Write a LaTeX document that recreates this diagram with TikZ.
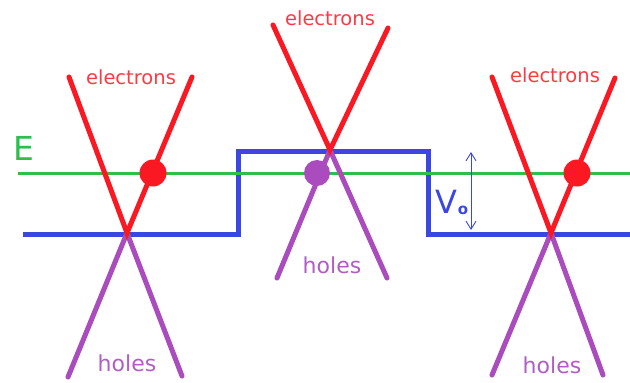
\documentclass[tikz,border=0pt]{standalone}
\usepackage{fontspec}
\setmainfont{DejaVu Sans}
\usetikzlibrary{arrows.meta}
\definecolor{bandred}{RGB}{250,25,35}
\definecolor{bandpurple}{RGB}{170,75,190}
\definecolor{wellblue}{RGB}{60,70,225}
\definecolor{levelgreen}{RGB}{45,190,75}
\tikzset{
  elec/.style={bandred, line width=5pt, line cap=round},
  hole/.style={bandpurple, line width=5pt, line cap=round},
  dot/.style={circle, fill=#1, inner sep=0pt, minimum size=27pt},
  elab/.style={text=bandred!85!white, font=\fontsize{19.5}{22}\selectfont, inner sep=0pt},
  hlab/.style={text=bandpurple!90!white, font=\fontsize{22}{26}\selectfont, inner sep=0pt},
}
\begin{document}
\begin{tikzpicture}[x=1pt, y=-1pt]
\useasboundingbox (0,0) rectangle (630,383);
% potential step
\draw[wellblue, line width=5pt] (23,234) -- (238,234) -- (238,151) -- (428,151) -- (428,234) -- (630,234);
% energy level
\draw[levelgreen, line width=3pt] (18,173) -- (630,173);
\node[text=levelgreen, font=\fontsize{33}{36}\selectfont, inner sep=0pt] (E) at (24,148) {E};
% cone tips and ends
\coordinate (vL) at (127,233);
\coordinate (vM) at (330,150);
\coordinate (vR) at (551,233);
\coordinate (eL1) at (69,77);   \coordinate (eL2) at (192,77);
\coordinate (hL1) at (68,377);  \coordinate (hL2) at (182,376);
\coordinate (eM1) at (273,25);  \coordinate (eM2) at (388,28);
\coordinate (hM1) at (277,278); \coordinate (hM2) at (387,278);
\coordinate (eR1) at (492,77);  \coordinate (eR2) at (615,78);
\coordinate (hR1) at (492,375); \coordinate (hR2) at (603,375);
% holes bands
\foreach \v/\a/\b in {vL/hL1/hL2, vM/hM1/hM2, vR/hR1/hR2} {
  \draw[hole] (\a) -- (\v) -- (\b);
}
% electron bands
\foreach \v/\a/\b in {vL/eL1/eL2, vM/eM1/eM2, vR/eR1/eR2} {
  \draw[elec] (\a) -- (\v) -- (\b);
}
% carriers
\node[dot=bandred] (dotL) at (153,173) {};
\node[dot=bandpurple, minimum size=26pt] (dotM) at (317,173) {};
\node[dot=bandred] (dotR) at (577,173) {};
% labels
\node[elab] (elecL) at (131,77) {electrons};
\node[elab] (elecM) at (330,18) {electrons};
\node[elab] (elecR) at (555,75) {electrons};
\node[hlab] (holeL) at (127,363) {holes};
\node[hlab] (holeM) at (332,265) {holes};
\node[hlab] (holeR) at (552,365) {holes};
% step height
\coordinate (vtop) at (471,152);
\coordinate (vbot) at (471,230);
\draw[wellblue, line width=0.9pt, {Straight Barb[length=8pt,width=10pt]}-{Straight Barb[length=8pt,width=10pt]}] (vtop) -- (vbot);
\node[text=wellblue, font=\fontsize{32}{36}\selectfont, inner sep=0pt] (Vlab) at (452,202) {V\raisebox{-1pt}{\fontsize{15}{18}\selectfont\bfseries o}};
\end{tikzpicture}
\end{document}
